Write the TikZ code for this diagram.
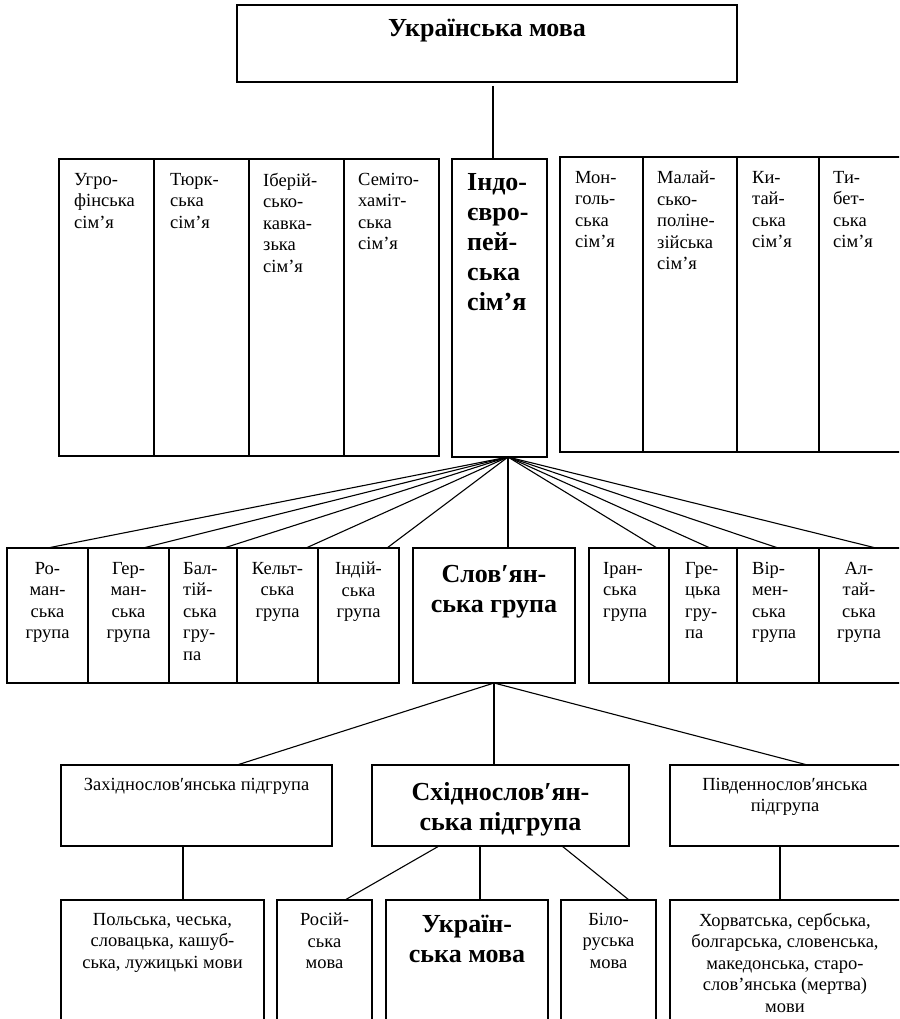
\documentclass[tikz,border=0pt]{standalone}
\usepackage{fontspec}
\setmainfont{Liberation Serif}
\usetikzlibrary{calc}
\newcommand\rfs{\fontsize{18.5}{21.5}\selectfont}
\newcommand\rfb{\fontsize{26}{30}\selectfont\bfseries}
\newcommand\bxx[5]{\node[bx, anchor=north west, minimum width={(#4)-(#2)}, minimum height={(#5)-(#3)}] (#1) at (#2,#3) {};}
\tikzset{
  bx/.style={draw, line width=1.2pt, inner sep=0pt, outer sep=0pt},
  tx/.style={inner sep=0pt, font=\rfs, align=center, anchor=north},
  txl/.style={inner sep=0pt, font=\rfs, align=left, anchor=north west},
  tb/.style={inner sep=0pt, font=\rfb, align=center, anchor=north},
  tbl/.style={inner sep=0pt, font=\rfb, align=left, anchor=north west},
  ln/.style={line width=1.1pt}
}
\begin{document}
\begin{tikzpicture}[x=1pt, y=-1pt]
\useasboundingbox (0,0) rectangle (899,1019);
\clip (0,0) rectangle (899,1019);
% top
\bxx{top}{237}{5}{737}{82}
\node[tb] (topt) at ([yshift=-14pt]top.north) {Українська мова};
% families
\bxx{ugro}{59}{159}{154}{456}
\bxx{turk}{154}{159}{249}{456}
\bxx{iber}{249}{159}{344}{456}
\bxx{semit}{344}{159}{439}{456}
\bxx{indo}{452}{159}{547}{457}
\bxx{mong}{560}{157}{643}{452}
\bxx{malay}{643}{157}{737}{452}
\bxx{china}{737}{157}{819}{452}
\bxx{tibet}{819}{157}{905}{452}
\node[txl] (ugrot) at ([xshift=15pt,yshift=-14pt]ugro.north west) {Угро-\\фінська\\сім’я};
\node[txl] (turkt) at ([xshift=16pt,yshift=-14pt]turk.north west) {Тюрк-\\ська\\сім’я};
\node[txl] (ibert) at ([xshift=14pt,yshift=-14pt]iber.north west) {Іберій-\\сько-\\кавка-\\зька\\сім’я};
\node[txl] (semitt) at ([xshift=14pt,yshift=-14pt]semit.north west) {Семіто-\\хаміт-\\ська\\сім’я};
\node[tbl] (indot) at ([xshift=15pt,yshift=-14pt]indo.north west) {Індо-\\євро-\\пей-\\ська\\сім’я};
\node[txl] (mongt) at ([xshift=15pt,yshift=-14pt]mong.north west) {Мон-\\голь-\\ська\\сім’я};
\node[txl] (malayt) at ([xshift=14pt,yshift=-14pt]malay.north west) {Малай-\\сько-\\поліне-\\зійська\\сім’я};
\node[txl] (chinat) at ([xshift=15pt,yshift=-14pt]china.north west) {Ки-\\тай-\\ська\\сім’я};
\node[txl] (tibett) at ([xshift=14pt,yshift=-14pt]tibet.north west) {Ти-\\бет-\\ська\\сім’я};
% groups
\bxx{rom}{7}{548}{88}{683}
\bxx{germ}{88}{548}{169}{683}
\bxx{balt}{169}{548}{237}{683}
\bxx{celt}{237}{548}{318}{683}
\bxx{ind}{318}{548}{399}{683}
\bxx{slav}{413}{548}{575}{683}
\bxx{iran}{589}{548}{669}{683}
\bxx{greek}{669}{548}{737}{683}
\bxx{arm}{737}{548}{819}{683}
\bxx{alt}{819}{548}{905}{683}
\node[tx] (romt) at ([yshift=-14pt]rom.north) {Ро-\\ман-\\ська\\група};
\node[tx] (germt) at ([yshift=-14pt]germ.north) {Гер-\\ман-\\ська\\група};
\node[txl] (baltt) at ([xshift=14pt,yshift=-14pt]balt.north west) {Бал-\\тій-\\ська\\гру-\\па};
\node[tx] (celtt) at ([yshift=-14pt]celt.north) {Кельт-\\ська\\група};
\node[tx] (indt) at ([yshift=-14pt]ind.north) {Індій-\\ська\\група};
\node[tb] (slavt) at ([yshift=-17pt]slav.north) {Слов′ян-\\ська група};
\node[txl] (irant) at ([xshift=14pt,yshift=-14pt]iran.north west) {Іран-\\ська\\група};
\node[txl] (greekt) at ([xshift=16pt,yshift=-14pt]greek.north west) {Гре-\\цька\\гру-\\па};
\node[txl] (armt) at ([xshift=15pt,yshift=-14pt]arm.north west) {Вір-\\мен-\\ська\\група};
\node[tx] (altt) at ([xshift=-3pt,yshift=-14pt]alt.north) {Ал-\\тай-\\ська\\група};
% subgroups
\bxx{west}{61}{765}{332}{846}
\bxx{east}{372}{765}{629}{846}
\bxx{south}{670}{765}{905}{846}
\node[tx] (westt) at ([yshift=-13pt]west.north) {Західнослов′янська підгрупа};
\node[tb] (eastt) at ([yshift=-17pt]east.north) {Східнослов′ян-\\ська підгрупа};
\node[tx] (southt) at ([xshift=-2.5pt,yshift=-13pt]south.north) {Південнослов′янська\\підгрупа};
% languages
\bxx{pol}{61}{900}{264}{1040}
\bxx{rus}{277}{900}{372}{1040}
\bxx{ukr}{386}{900}{548}{1040}
\bxx{bel}{561}{900}{656}{1040}
\bxx{cro}{670}{900}{905}{1040}
\node[tx] (polt) at ([yshift=-13pt]pol.north) {Польська, чеська,\\словацька, кашуб-\\ська, лужицькі мови};
\node[tx] (rust) at ([yshift=-13pt]rus.north) {Росій-\\ська\\мова};
\node[tb] (ukrt) at ([yshift=-15pt]ukr.north) {Україн-\\ська мова};
\node[tx] (belt) at ([yshift=-13pt]bel.north) {Біло-\\руська\\мова};
\node[tx] (crot) at ([xshift=-2.5pt,yshift=-13pt]cro.north) {Хорватська, сербська,\\болгарська, словенська,\\македонська, старо-\\слов’янська (мертва)\\мови};
% connectors
\draw[ln] ([xshift=6pt,yshift=-4pt]top.south) -- ([xshift=-6.5pt]indo.north);
\coordinate (fan) at ([xshift=8.5pt]indo.south);
\draw[ln] (fan) -- (rom.north);
\draw[ln] (fan) -- ([xshift=14.5pt]germ.north);
\draw[ln] (fan) -- ([xshift=21pt]balt.north);
\draw[ln] (fan) -- ([xshift=28.5pt]celt.north);
\draw[ln] (fan) -- ([xshift=28.5pt]ind.north);
\draw[ln] (fan) -- ([xshift=14pt]slav.north);
\draw[ln] (fan) -- ([xshift=28pt]iran.north);
\draw[ln] (fan) -- ([xshift=7pt]greek.north);
\draw[ln] (fan) -- (arm.north);
\draw[ln] (fan) -- ([xshift=14pt]alt.north);
\draw[ln] (slav.south) -- ([xshift=40.5pt]west.north);
\draw[ln] (slav.south) -- ([xshift=-6.5pt]east.north);
\draw[ln] (slav.south) -- ([xshift=20pt]south.north);
\draw[ln] ([xshift=-13.5pt]west.south) -- ([xshift=20.5pt]pol.north);
\draw[ln] ([xshift=-61.5pt]east.south) -- ([xshift=20.5pt]rus.north);
\draw[ln] ([xshift=-20.5pt]east.south) -- ([xshift=13pt]ukr.north);
\draw[ln] ([xshift=61.5pt]east.south) -- ([xshift=20.5pt]bel.north);
\draw[ln] ([xshift=-7.5pt]south.south) -- ([xshift=-7.5pt]cro.north);
\end{tikzpicture}
\end{document}
